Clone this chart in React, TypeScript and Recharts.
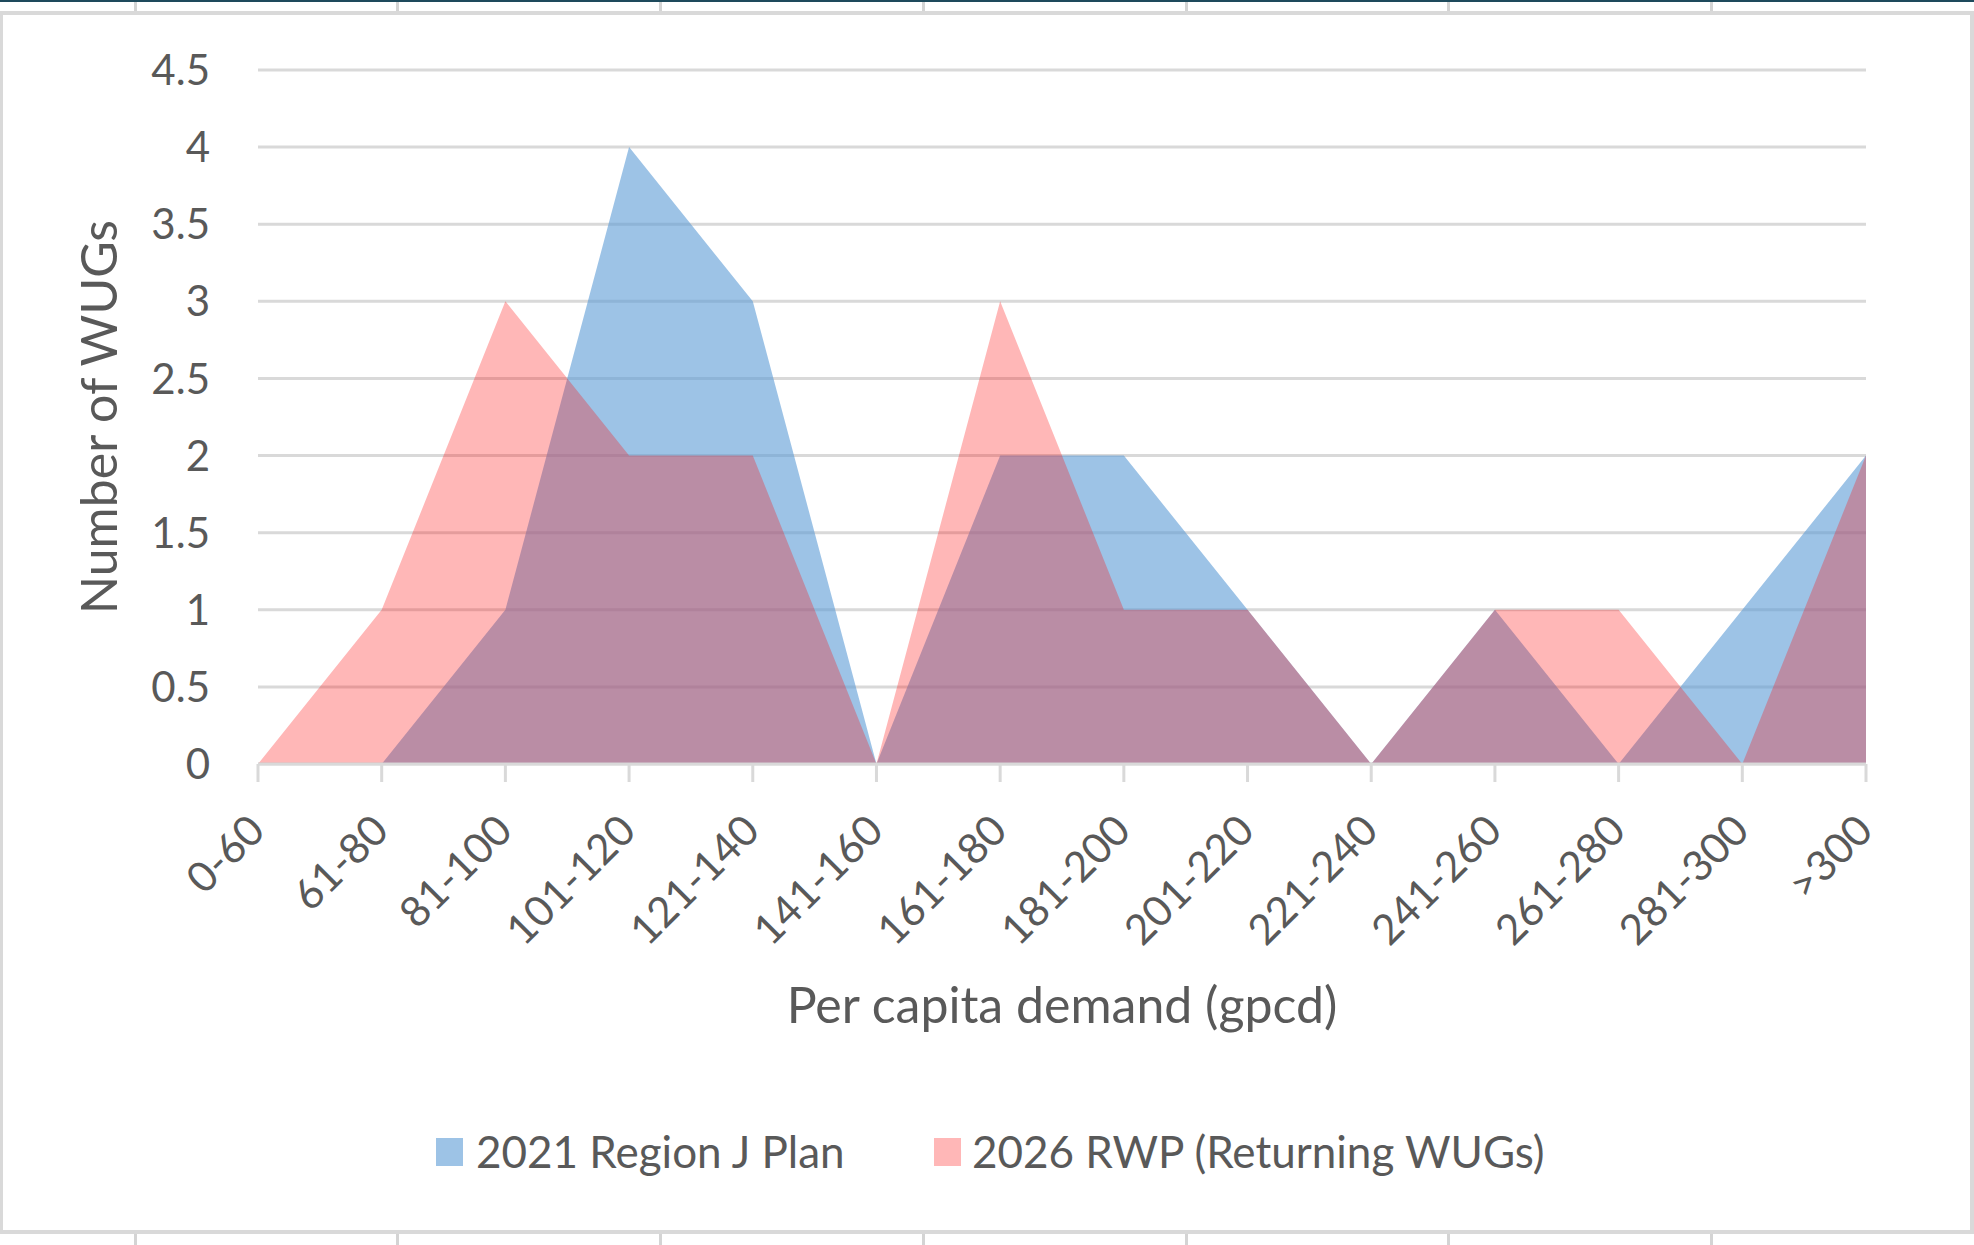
import { AreaChart, Area, XAxis, YAxis, CartesianGrid } from 'recharts';

// MARK: - Data

const categories = ['0-60', '61-80', '81-100', '101-120', '121-140', '141-160', '161-180', '181-200', '201-220', '221-240', '241-260', '261-280', '281-300', '>300'];
const plan2021 = [0, 0, 1, 4, 3, 0, 2, 2, 1, 0, 1, 0, 1, 2];
const rwp2026 = [0, 1, 3, 2, 2, 0, 3, 1, 1, 0, 1, 1, 0, 2];
const yTicks = [0, 0.5, 1, 1.5, 2, 2.5, 3, 3.5, 4, 4.5];
const seriesNames = ['2021 Region J Plan', '2026 RWP (Returning WUGs)'];
const xTitle = 'Per capita demand (gpcd)';
const yTitle = 'Number of WUGs';

const chartData = categories.map((cat, i) => ({ cat, plan: plan2021[i], rwp: rwp2026[i] }));

// MARK: - Styles

const FONT = 'Lato, "Open Sans", sans-serif';
const TEXT = '#595959';
const LINE = '#D9D9D9';
const BLUE = '#5B9BD5';
const RED = '#FF1111';

// spreadsheet cell borders peeking out above and below the chart
const cellLines = [135, 397, 660, 923, 1186, 1448, 1711];

const XTick = ({ x, y, payload }: any) => {
    const ax = x + 9;
    const ay = y + 51;
    return (
        <text x={ax} y={ay} textAnchor="end" transform={`rotate(-45, ${ax}, ${ay})`}
            fill={TEXT} fontSize={42} fontFamily={FONT}>
            {payload.value}
        </text>
    );
};

const YTick = ({ x, y, payload }: any) => (
    <text x={x} y={y} dy="0.36em" textAnchor="end" fill={TEXT} fontSize={42} fontFamily={FONT}>
        {payload.value}
    </text>
);

const YTitle = ({ viewBox }: any) => {
    const cy = viewBox.y + viewBox.height / 2;
    return (
        <text x={117} y={cy} textAnchor="middle" transform={`rotate(-90, 117, ${cy})`}
            fill={TEXT} fontSize={50} fontFamily={FONT}>
            {yTitle}
        </text>
    );
};

const XTitle = ({ viewBox }: any) => (
    <text x={viewBox.x + viewBox.width / 2} y={viewBox.y + 259} textAnchor="middle"
        fill={TEXT} fontSize={50} fontFamily={FONT}>
        {xTitle}
    </text>
);

const App = () => {
    return (
        <div style={{ position: 'absolute', left: 0, top: 0, width: 1974, height: 1245, background: '#fff', overflow: 'hidden' }}>
            {/* sheet edges */}
            <div style={{ position: 'absolute', left: 0, top: 0, width: 1974, height: 2, background: '#1E4A5C' }} />
            {cellLines.map((cx) => (
                <div key={`t${cx}`} style={{ position: 'absolute', left: cx - 1, top: 2, width: 3, height: 10, background: '#D4D4D4' }} />
            ))}
            {cellLines.map((cx) => (
                <div key={`b${cx}`} style={{ position: 'absolute', left: cx - 1, top: 1234, width: 3, height: 11, background: '#D4D4D4' }} />
            ))}
            <div style={{
                position: 'absolute', left: 0, top: 11, width: 1974, height: 1223, boxSizing: 'border-box',
                borderTop: `4px solid ${LINE}`, borderBottom: `4px solid ${LINE}`,
                borderLeft: `3px solid ${LINE}`, borderRight: `4px solid ${LINE}`,
            }} />

            {/* chart */}
            <div style={{ position: 'absolute', left: 0, top: 0 }}>
                <AreaChart width={1974} height={1245} data={chartData}
                    margin={{ top: 70, right: 108, bottom: 281, left: 0 }}>
                    <CartesianGrid vertical={false} stroke={LINE} strokeWidth={3} />
                    <XAxis
                        dataKey="cat"
                        interval={0}
                        height={200}
                        tickSize={18}
                        tickMargin={0}
                        axisLine={{ stroke: LINE, strokeWidth: 3 }}
                        tickLine={{ stroke: LINE, strokeWidth: 3 }}
                        tick={<XTick />}
                        label={<XTitle />}
                    />
                    <YAxis
                        width={258}
                        domain={[0, 4.5]}
                        ticks={yTicks}
                        interval={0}
                        axisLine={false}
                        tickLine={false}
                        tickSize={0}
                        tickMargin={48}
                        tick={<YTick />}
                        label={<YTitle />}
                    />
                    <Area type="linear" dataKey="plan" name={seriesNames[0]} stroke="none"
                        fill={BLUE} fillOpacity={0.6} dot={false} activeDot={false} isAnimationActive={false} />
                    <Area type="linear" dataKey="rwp" name={seriesNames[1]} stroke="none"
                        fill={RED} fillOpacity={0.3} dot={false} activeDot={false} isAnimationActive={false} />
                </AreaChart>
            </div>

            {/* legend */}
            <svg width={1974} height={1245} style={{ position: 'absolute', left: 0, top: 0, pointerEvents: 'none' }}>
                <rect x={436} y={1138} width={27} height={28} fill={BLUE} fillOpacity={0.6} />
                <text x={476} y={1168} fill={TEXT} fontSize={44} fontFamily={FONT}>{seriesNames[0]}</text>
                <rect x={934} y={1138} width={27} height={28} fill={RED} fillOpacity={0.3} />
                <text x={972} y={1168} fill={TEXT} fontSize={44} fontFamily={FONT}>{seriesNames[1]}</text>
            </svg>
        </div>
    );
};

export default App;
